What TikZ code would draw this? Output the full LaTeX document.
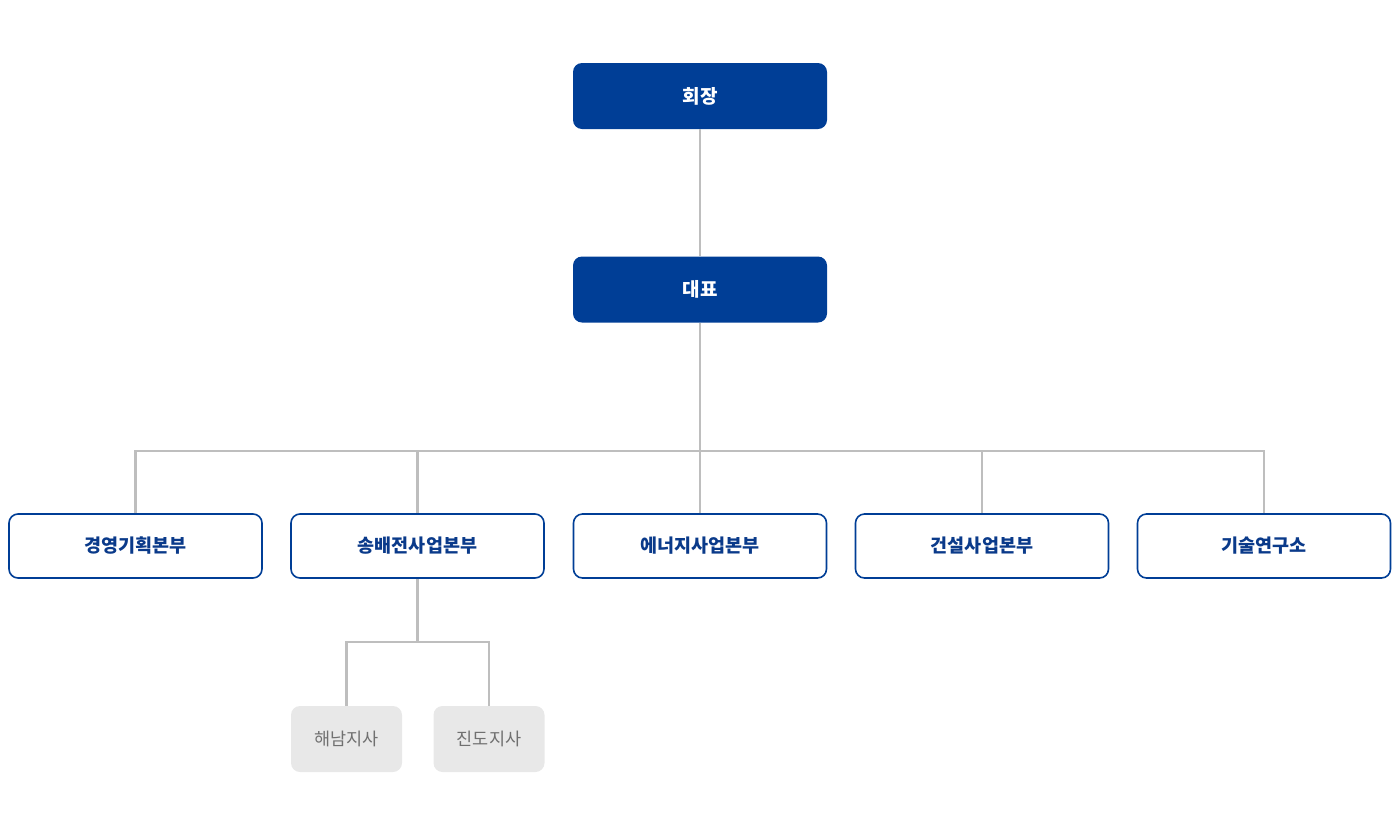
\documentclass[tikz,border=0pt]{standalone}
\usepackage{fontspec}
\newfontfamily\kr{Noto Sans CJK KR}
\definecolor{navy}{RGB}{0,62,150}
\definecolor{navytext}{RGB}{10,58,138}
\definecolor{linegray}{RGB}{190,190,190}
\definecolor{boxgray}{RGB}{232,232,232}
\definecolor{textgray}{RGB}{112,112,112}
\begin{document}
\begin{tikzpicture}[x=1pt, y=-1pt, font=\kr, line join=miter,
	topbox/.style={fill=navy, text=white, rounded corners=9pt, minimum width=254pt, minimum height=66pt, font=\kr\bfseries\fontsize{19}{19}\selectfont},
	deptbox/.style={draw=navy, line width=1.6pt, fill=white, text=navytext, rounded corners=9pt, minimum width=253pt, minimum height=64pt, font=\kr\bfseries\fontsize{18.5}{19}\selectfont},
	branchbox/.style={fill=boxgray, text=textgray, rounded corners=9pt, minimum width=111pt, minimum height=66pt, font=\kr\fontsize{17.5}{18}\selectfont},
	link/.style={draw=linegray, line width=2.4pt}]
	% Khung
	\useasboundingbox (0,0) rectangle (1400,836);
	% Cấp trên
	\node[topbox] (chair) at (700,96) {회장};
	\node[topbox] (ceo) at (700,289.5) {대표};
	% Các bản bộ
	\def\rowy{546}
	\node[deptbox] (plan) at (135.5,\rowy) {경영기획본부};
	\node[deptbox] (grid) at (417.5,\rowy) {송배전사업본부};
	\node[deptbox] (energy) at (700,\rowy) {에너지사업본부};
	\node[deptbox] (build) at (982,\rowy) {건설사업본부};
	\node[deptbox] (lab) at (1264,\rowy) {기술연구소};
	% Các chi nhánh
	\node[branchbox] (haenam) at (346.5,739) {해남지사};
	\node[branchbox] (jindo) at (489,739) {진도지사};
	% Điểm nối
	\coordinate (bus) at (700,451);
	\coordinate (subbus) at (417.5,642);
	% Đường nối
	\draw[link] (chair) -- (ceo);
	\draw[link] (ceo) -- (bus);
	\foreach \d in {plan,grid,energy,build,lab}
		\draw[link] (bus) -| (\d.north);
	\draw[link] (grid) -- (subbus);
	\draw[link] (subbus) -| (haenam.north);
	\draw[link] (subbus) -| (jindo.north);
\end{tikzpicture}
\end{document}
